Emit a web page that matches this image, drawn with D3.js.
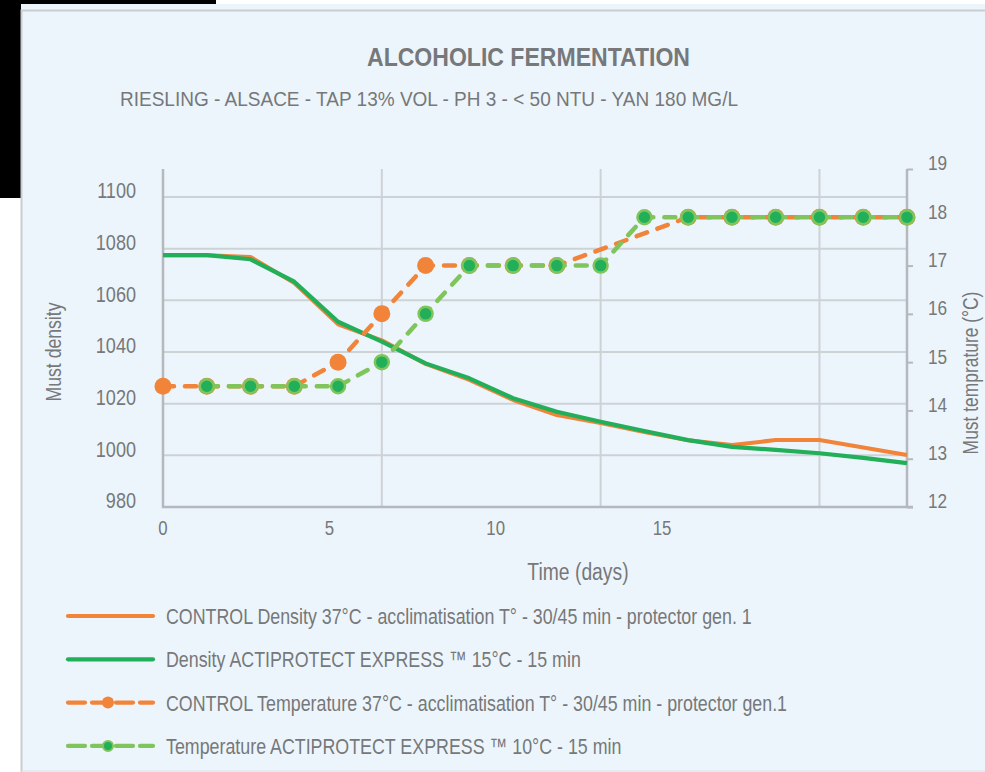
<!DOCTYPE html>
<html><head><meta charset="utf-8">
<script src="https://cdn.jsdelivr.net/npm/d3@7"></script>
<style>html,body{margin:0;padding:0;background:#fff;} svg{display:block;}</style>
</head><body>
<svg id="c" width="985" height="772"></svg>
<script>
// ---------------- DATA ----------------
const titleText = "ALCOHOLIC FERMENTATION";
const subtitleText = "RIESLING - ALSACE - TAP 13% VOL - PH 3 - < 50 NTU - YAN 180 MG/L";
const samples = [0,1,2,3,4,5,6,7,8,9,10,11,12,13,14,15,16,17];
const dayTicks = [0,5,10,15];
const gridSamples = [5,10,15];
const densityTicks = [980,1000,1020,1040,1060,1080,1100];
const tempTicks = [12,13,14,15,16,17,18,19];
const densityControl = [1077.5,1077.5,1076.8,1066.7,1050.7,1044.5,1035.4,1029.2,1021.4,1015.6,1012.5,1009.0,1005.8,1004.0,1005.9,1005.9,1003.0,1000.1];
const densityActi    = [1077.5,1077.5,1075.9,1067.2,1051.7,1044.0,1035.6,1029.8,1022.1,1016.9,1013.0,1009.4,1005.9,1003.3,1002.1,1000.8,999.0,997.0];
const tempControl    = [14.5,14.5,14.5,14.5,15,16,17,17,17,17,null,null,18,18,18,18,18,18];
const tempActi       = [null,14.5,14.5,14.5,14.5,15,16,17,17,17,17,18,18,18,18,18,18,18];
const legendLabels = [
  "CONTROL Density 37°C - acclimatisation T° - 30/45 min - protector gen. 1",
  "Density  ACTIPROTECT EXPRESS \u2122 15°C - 15 min",
  "CONTROL Temperature 37°C - acclimatisation T° - 30/45 min - protector gen.1",
  "Temperature ACTIPROTECT EXPRESS  \u2122 10°C - 15 min"
];
const yLeftTitle = "Must density";
const yRightTitle = "Must temprature (°C)";
const xTitle = "Time (days)";

// ---------------- STYLE ----------------
const C = {
  orange: "#F28439", green: "#21AF5A", lightGreen: "#80C55B",
  text: "#767879", grid: "#CDD2D5", axis: "#B5B9BC", bg: "#EDF5FC", border: "#C9CDD0"
};
const FONT = "'Liberation Sans', Arial, sans-serif";

const svg = d3.select("#c");

// page decoration
svg.append("rect").attr("x",0).attr("y",0).attr("width",985).attr("height",772).attr("fill","#fff");
svg.append("rect").attr("x",21).attr("y",4).attr("width",964).attr("height",768).attr("fill",C.bg);
svg.append("rect").attr("x",0).attr("y",0).attr("width",216).attr("height",4).attr("fill","#000");
svg.append("rect").attr("x",0).attr("y",0).attr("width",21).attr("height",198).attr("fill","#000");
svg.append("path").attr("d","M21.5,772V10.5H985").attr("fill","none").attr("stroke",C.border).attr("stroke-width",2);
svg.append("line").attr("x1",21).attr("x2",985).attr("y1",771).attr("y2",771).attr("stroke","#DDE1E4").attr("stroke-width",1);

function condense(sel, f){
  sel.each(function(){
    const w = this.getComputedTextLength();
    this.setAttribute("textLength", (w*f).toFixed(2));
    this.setAttribute("lengthAdjust","spacingAndGlyphs");
  });
}

// ---------------- SCALES ----------------
const L = 163, R = 907, T = 169, B = 507;
const x = d3.scaleLinear().domain([samples[0], samples[samples.length-1]]).range([L, R]);
const xDay = d3.scaleLinear().domain([0,15]).range([162.5, 661.5]);
const yD = d3.scaleLinear().domain([980,1100]).range([B, 197]);
const yT = d3.scaleLinear().domain([12,19]).range([B, T]);

// ---------------- GRID ----------------
const grid = svg.append("g");
grid.selectAll(".hg").data(densityTicks.filter(d=>d>980)).join("line")
  .attr("x1",L).attr("x2",R).attr("y1",d=>yD(d)).attr("y2",d=>yD(d))
  .attr("stroke",C.grid).attr("stroke-width",2);
grid.selectAll(".vg").data(gridSamples).join("line")
  .attr("x1",d=>x(d)).attr("x2",d=>x(d)).attr("y1",T).attr("y2",B)
  .attr("stroke",C.grid).attr("stroke-width",2);

// ---------------- AXES ----------------
const axL = svg.append("g").attr("transform",`translate(${L},0)`)
  .call(d3.axisLeft(yD).tickValues(densityTicks).tickSize(0).tickPadding(27).tickFormat(d3.format("d")));
axL.select(".domain").remove();
axL.selectAll("text").attr("y",-7).attr("dy","0.36em")
  .attr("font-family",FONT).attr("font-size",21.5).attr("fill",C.text).call(condense,0.84);

const axR = svg.append("g").attr("transform",`translate(${R},0)`)
  .call(d3.axisRight(yT).tickValues(tempTicks).tickSize(6).tickPadding(15).tickFormat(d3.format("d")));
axR.select(".domain").remove();
axR.selectAll("line").attr("stroke",C.axis).attr("stroke-width",2);
axR.selectAll("text").attr("y",-6.5).attr("dy","0.36em")
  .attr("font-family",FONT).attr("font-size",20.5).attr("fill",C.text).call(condense,0.84);

const axB = svg.append("g").attr("transform",`translate(0,${B})`)
  .call(d3.axisBottom(xDay).tickValues(dayTicks).tickSize(0).tickPadding(0));
axB.select(".domain").remove();
axB.selectAll("text").attr("y",21).attr("dy","0.36em")
  .attr("font-family",FONT).attr("font-size",20.5).attr("fill",C.text).call(condense,0.82);

// axis lines
const al = svg.append("g").attr("stroke",C.axis).attr("stroke-width",2.5).attr("fill","none");
al.append("path").attr("d",`M${L},${T}V${B}H${R+6}`);
al.append("path").attr("d",`M${R},${T}V${B}`);

// ---------------- SERIES ----------------
const lineD = d3.line().defined(d=>d.v!=null).x(d=>x(d.i)).y(d=>yD(d.v));
const lineT = d3.line().x(d=>x(d.i)).y(d=>yT(d.v));
const pack = arr => arr.map((v,k)=>({i:samples[k], v}));

svg.append("path").datum(pack(densityControl)).attr("d",lineD)
  .attr("fill","none").attr("stroke",C.orange).attr("stroke-width",4).attr("stroke-linejoin","round");
svg.append("path").datum(pack(densityActi)).attr("d",lineD)
  .attr("fill","none").attr("stroke",C.green).attr("stroke-width",4.2).attr("stroke-linejoin","round");

const tc = pack(tempControl).filter(d=>d.v!=null);
svg.append("path").datum(tc).attr("d",lineT)
  .attr("fill","none").attr("stroke",C.orange).attr("stroke-width",4.5)
  .attr("stroke-dasharray","11,11").attr("stroke-linecap","round");
svg.append("g").selectAll("circle").data(tc).join("circle")
  .attr("cx",d=>x(d.i)).attr("cy",d=>yT(d.v)).attr("r",8.5).attr("fill",C.orange);

const ta = pack(tempActi).filter(d=>d.v!=null);
svg.append("path").datum(ta).attr("d",lineT)
  .attr("fill","none").attr("stroke",C.lightGreen).attr("stroke-width",4.5)
  .attr("stroke-dasharray","11,11").attr("stroke-linecap","round");
svg.append("g").selectAll("circle").data(ta).join("circle")
  .attr("cx",d=>x(d.i)).attr("cy",d=>yT(d.v)).attr("r",7).attr("fill",C.green)
  .attr("stroke",C.lightGreen).attr("stroke-width",2.5);

// ---------------- TEXTS ----------------
svg.append("text").text(titleText).attr("x",528.5).attr("y",57).attr("dy","0.36em")
  .attr("text-anchor","middle").attr("font-family",FONT).attr("font-weight","bold")
  .attr("font-size",25).attr("fill",C.text).attr("textLength",323).attr("lengthAdjust","spacingAndGlyphs");
svg.append("text").text(subtitleText).attr("x",120).attr("y",99).attr("dy","0.36em")
  .attr("font-family",FONT).attr("font-size",20.5).attr("fill",C.text)
  .attr("textLength",618).attr("lengthAdjust","spacingAndGlyphs");

svg.append("text").text(yLeftTitle).attr("transform","translate(53,352) rotate(-90)")
  .attr("text-anchor","middle").attr("dy","0.36em").attr("font-family",FONT)
  .attr("font-size",21.5).attr("fill",C.text).call(condense,0.82);
svg.append("text").text(yRightTitle).attr("transform","translate(970,373) rotate(-90)")
  .attr("text-anchor","middle").attr("dy","0.36em").attr("font-family",FONT)
  .attr("font-size",21.5).attr("fill",C.text).call(condense,0.81);
svg.append("text").text(xTitle).attr("x",578).attr("y",572).attr("dy","0.36em")
  .attr("text-anchor","middle").attr("font-family",FONT)
  .attr("font-size",23).attr("fill",C.text).call(condense,0.84);

// ---------------- LEGEND ----------------
const legendItems = [
  {label: legendLabels[0], color: C.orange, dashed:false},
  {label: legendLabels[1], color: C.green, dashed:false},
  {label: legendLabels[2], color: C.orange, dashed:true, marker:"orange"},
  {label: legendLabels[3], color: C.lightGreen, dashed:true, marker:"green"}
];
const lg = svg.append("g");
legendItems.forEach((it,k)=>{
  const y = 616 + k*43.3;
  const g = lg.append("g").attr("transform",`translate(0,${y})`);
  g.append("line").attr("x1",68).attr("x2",153).attr("y1",0).attr("y2",0)
    .attr("stroke",it.color).attr("stroke-width",4.2).attr("stroke-linecap","round")
    .attr("stroke-dasharray", it.dashed ? "17,7" : null);
  if(it.marker==="orange") g.append("circle").attr("cx",108).attr("cy",0).attr("r",6).attr("fill",C.orange);
  if(it.marker==="green") g.append("circle").attr("cx",108).attr("cy",0).attr("r",5).attr("fill",C.green)
    .attr("stroke",C.lightGreen).attr("stroke-width",2);
  g.append("text").text(it.label).attr("x",166).attr("y",0).attr("dy","0.36em")
    .attr("font-family",FONT).attr("font-size",22).attr("fill",C.text).call(condense,0.81);
});
</script>
</body></html>
